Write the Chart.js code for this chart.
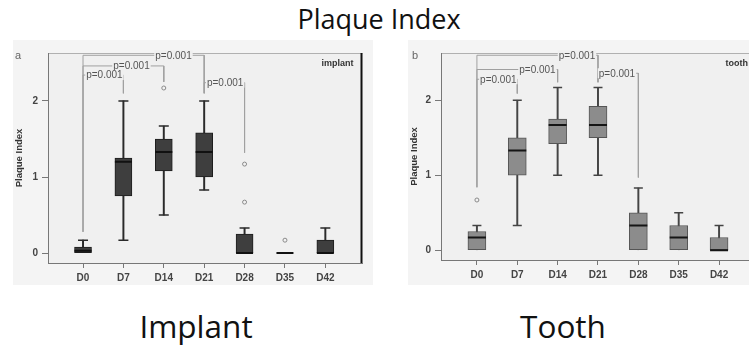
<!DOCTYPE html>
<html><head><meta charset="utf-8">
<script src="https://cdn.jsdelivr.net/npm/chart.js@4/dist/chart.umd.min.js"></script>
<style>
html,body{margin:0;padding:0;width:749px;height:347px;overflow:hidden;background:#fff;position:relative;}
.t{position:absolute;font-family:'Open Sans',sans-serif;color:#111;line-height:1;white-space:nowrap;transform:translateX(-50%);}
canvas{position:absolute;}
</style></head><body>
<div class="t" style="left:379px;top:5px;font-size:27px;">Plaque Index</div>
<canvas id="c1" width="360" height="245" style="left:13px;top:40px"></canvas>
<canvas id="c2" width="360" height="245" style="left:408px;top:40px"></canvas>
<div class="t" style="left:196px;top:310px;font-size:31.5px;">Implant</div>
<div class="t" style="left:563px;top:310px;font-size:31.5px;">Tooth</div>
<script>
const categories = ['D0', 'D7', 'D14', 'D21', 'D28', 'D35', 'D42'];
const yTicks = [0, 1, 2];
const yAxisTitle = 'Plaque Index';
const pLabel = 'p=0.001';

// Implant (panel a)
const implantMin      = [0,    0.17, 0.50, 0.83, 0,    0,    0];
const implantQ1       = [0,    0.75, 1.08, 1.00, 0,    0,    0];
const implantMedian   = [0.03, 1.20, 1.33, 1.33, 0,    0,    0];
const implantQ3       = [0.08, 1.25, 1.50, 1.58, 0.25, 0,    0.17];
const implantMax      = [0.17, 2.00, 1.67, 2.00, 0.33, 0,    0.33];
const implantOutliers = [[], [], [2.17], [], [1.17, 0.67], [0.17], []];
// brackets: from, to, level, fromEnd, toEnd, labelAt (value units)
const implantBrackets = [
  {from: 0, to: 3, level: 2.60, fromEnd: 0.28, toEnd: 2.10, labelAt: 2.24},
  {from: 0, to: 2, level: 2.46, fromEnd: 0.28, toEnd: 2.25, labelAt: 1.20},
  {from: 0, to: 1, level: 2.34, fromEnd: 0.28, toEnd: 2.10, labelAt: 0.53},
  {from: 3, to: 4, level: 2.24, fromEnd: 2.10, toEnd: 1.32, labelAt: 3.52}
];

// Tooth (panel b)
const toothMin      = [0,    0.33, 1.00, 1.00, 0,    0,    0];
const toothQ1       = [0,    1.00, 1.42, 1.50, 0,    0,    0];
const toothMedian   = [0.17, 1.33, 1.67, 1.67, 0.33, 0.17, 0];
const toothQ3       = [0.25, 1.50, 1.75, 1.92, 0.50, 0.33, 0.17];
const toothMax      = [0.33, 2.00, 2.17, 2.17, 0.83, 0.50, 0.33];
const toothOutliers = [[0.67], [], [], [], [], [], []];
const toothBrackets = [
  {from: 0, to: 3, level: 2.60, fromEnd: 0.84, toEnd: 2.24, labelAt: 2.48},
  {from: 0, to: 2, level: 2.41, fromEnd: 0.84, toEnd: 2.24, labelAt: 1.50},
  {from: 0, to: 1, level: 2.28, fromEnd: 0.84, toEnd: 2.09, labelAt: 0.53},
  {from: 3, to: 4, level: 2.36, fromEnd: 2.24, toEnd: 0.97, labelAt: 3.47}
];

Chart.defaults.font.family = "'Liberation Sans', Arial, sans-serif";

function buildDatasets(s, st) {
  const idx = categories.map((_, i) => i);
  const whiskers = idx.filter(i => s.max[i] > s.min[i]).map(i => ({x: i, y: [s.min[i], s.max[i]]}));
  const boxes = idx.map(i => ({x: i, y: [s.q1[i], s.q3[i]]}));
  const medians = idx.map(i => ({x: i, y: s.median[i]}));
  const caps = [];
  idx.forEach(i => {
    if (s.max[i] > s.q3[i]) caps.push({x: i, y: s.max[i]});
    if (s.min[i] < s.q1[i]) caps.push({x: i, y: s.min[i]});
  });
  const outs = [];
  idx.forEach(i => s.outliers[i].forEach(v => outs.push({x: i, y: v})));
  const bracketSets = s.brackets.map(b => ({
    type: 'line',
    data: [{x: b.from, y: b.fromEnd}, {x: b.from, y: b.level}, {x: b.to, y: b.level}, {x: b.to, y: b.toEnd}],
    borderColor: '#a0a0a0', borderWidth: 1, pointRadius: 0, tension: 0, fill: false, order: 6
  }));
  return [
    {type: 'bar', data: whiskers, backgroundColor: st.whisker, barThickness: 1.3, grouped: false, order: 5},
    {type: 'bar', data: boxes, backgroundColor: st.box, borderColor: st.boxBorder, borderWidth: 1,
     borderSkipped: false, barThickness: st.boxW, grouped: false, order: 4},
    {type: 'scatter', data: medians, pointStyle: 'line', pointRadius: st.boxW / 2, borderWidth: 2,
     borderColor: st.median, order: 3},
    {type: 'scatter', data: caps, pointStyle: 'line', pointRadius: st.capR, borderWidth: 1.5,
     borderColor: st.whisker, order: 3},
    {type: 'scatter', data: outs, pointStyle: 'circle', pointRadius: 2, borderWidth: 1,
     borderColor: '#8a8a8a', backgroundColor: '#f2f2f2', order: 2},
    ...bracketSets
  ];
}

const decor = {
  id: 'decor',
  beforeDraw(chart, args, o) {
    const {ctx, chartArea: a} = chart;
    ctx.save();
    ctx.fillStyle = '#f4f4f4';
    ctx.fillRect(0, 0, chart.width, chart.height);
    ctx.fillStyle = '#f0f0f0';
    ctx.fillRect(a.left, a.top, a.right - a.left, a.bottom - a.top);
    ctx.strokeStyle = '#b0b0b0'; ctx.lineWidth = 1;
    ctx.beginPath(); ctx.moveTo(a.left, a.top + 0.5); ctx.lineTo(a.right, a.top + 0.5); ctx.stroke();
    ctx.strokeStyle = '#111'; ctx.lineWidth = 2;
    ctx.beginPath(); ctx.moveTo(a.right - 1, a.top); ctx.lineTo(a.right - 1, a.bottom + 1); ctx.stroke();
    ctx.restore();
  },
  afterDatasetsDraw(chart, args, o) {
    const {ctx} = chart;
    const xs = chart.scales.x, ys = chart.scales.y;
    ctx.save();
    ctx.font = "10px 'Liberation Sans', Arial, sans-serif";
    ctx.textAlign = 'center'; ctx.textBaseline = 'middle';
    o.brackets.forEach(b => {
      const x = xs.getPixelForValue(b.labelAt), y = ys.getPixelForValue(b.level);
      const w = ctx.measureText(pLabel).width;
      ctx.fillStyle = '#f0f0f0';
      ctx.fillRect(x - w / 2 - 1, y - 5, w + 2, 10);
      ctx.fillStyle = '#555';
      ctx.fillText(pLabel, x, y + 0.5);
    });
    ctx.restore();
  },
  afterDraw(chart, args, o) {
    const {ctx, chartArea: a} = chart;
    ctx.save();
    ctx.fillStyle = '#666';
    ctx.font = "11px 'Liberation Sans', Arial, sans-serif";
    ctx.textBaseline = 'middle';
    ctx.textAlign = 'left';
    ctx.fillText(o.letter, o.letterX, 16);
    ctx.fillStyle = '#333';
    ctx.font = "bold 9px 'Liberation Sans', Arial, sans-serif";
    ctx.textAlign = 'right';
    ctx.fillText(o.group, a.right - 9, a.top + 11);
    ctx.restore();
  }
};

function makeChart(id, s, st, lay) {
  new Chart(document.getElementById(id), {
    type: 'bar',
    data: {datasets: buildDatasets(s, st)},
    plugins: [decor],
    options: {
      responsive: false, animation: false,
      layout: {padding: {top: 13, right: 2, left: 0, bottom: 0}},
      plugins: {legend: {display: false}, tooltip: {enabled: false},
        decor: {brackets: s.brackets, letter: lay.letter, letterX: lay.letterX, group: lay.group}},
      scales: {
        x: {
          type: 'linear', min: lay.xMin, max: lay.xMax, offset: false,
          afterBuildTicks: sc => { sc.ticks = categories.map((_, i) => ({value: i})); },
          afterFit: sc => { sc.height = lay.xh; },
          ticks: {callback: v => categories[v] ?? '', font: {size: 10, weight: 'bold'}, color: '#444',
                  padding: 4, autoSkip: false, maxRotation: 0},
          grid: {drawOnChartArea: false, drawTicks: true, tickLength: 5, color: '#777', offset: false},
          border: {display: true, color: '#777', width: 1}
        },
        y: {
          type: 'linear', min: -0.13, max: 2.63,
          afterBuildTicks: sc => { sc.ticks = yTicks.map(v => ({value: v})); },
          afterFit: sc => { sc.width = lay.yw; },
          ticks: {font: {size: 10, weight: 'bold'}, color: '#444', padding: 4},
          grid: {drawOnChartArea: false, drawTicks: true, tickLength: 6, color: '#777'},
          border: {display: true, color: '#777', width: 1},
          title: {display: true, text: yAxisTitle, font: {size: 9.5, weight: 'bold'}, color: '#333',
                  padding: {top: 1, bottom: 0}}
        }
      }
    }
  });
}

makeChart('c1',
  {min: implantMin, q1: implantQ1, median: implantMedian, q3: implantQ3, max: implantMax,
   outliers: implantOutliers, brackets: implantBrackets},
  {box: '#3e3e3e', boxBorder: '#1e1e1e', median: '#111', whisker: '#2a2a2a', boxW: 17, capR: 5},
  {xMin: -0.867, xMax: 6.92, xh: 22, yw: 35, letter: 'a', letterX: 2, group: 'implant'});

makeChart('c2',
  {min: toothMin, q1: toothQ1, median: toothMedian, q3: toothQ3, max: toothMax,
   outliers: toothOutliers, brackets: toothBrackets},
  {box: '#8c8c8c', boxBorder: '#555', median: '#151515', whisker: '#444', boxW: 18, capR: 4.5},
  {xMin: -0.89, xMax: 6.94, xh: 25, yw: 33, letter: 'b', letterX: 4, group: 'tooth'});
</script>
</body></html>
